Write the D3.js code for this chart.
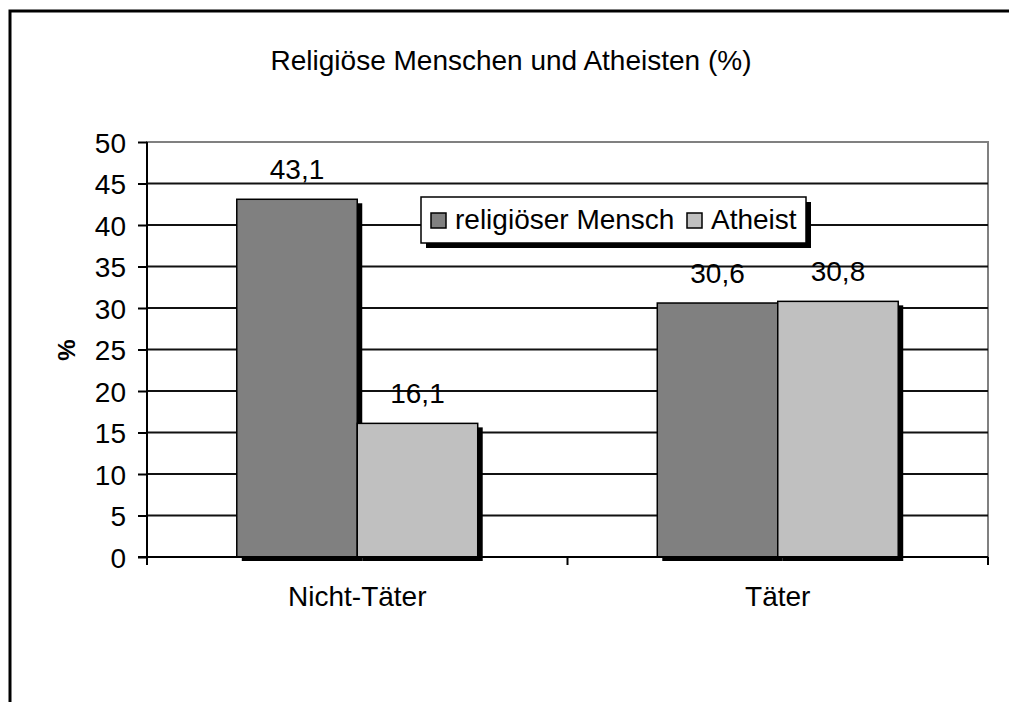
<!DOCTYPE html>
<html>
<head>
<meta charset="utf-8">
<script src="https://cdn.jsdelivr.net/npm/d3@7"></script>
<style>
  html, body { margin: 0; background: #fff; overflow: hidden; }
  svg { display: block; }
  text { font-family: Arial, "Liberation Sans", sans-serif; fill: #000; }
</style>
</head>
<body>
<div id="chart"></div>
<script>
var categories = ["Nicht-Täter", "Täter"];
var seriesNames = ["religiöser Mensch", "Atheist"];
var religious = [43.1, 30.6];
var atheist = [16.1, 30.8];
var yTicks = [0, 5, 10, 15, 20, 25, 30, 35, 40, 45, 50];
var title = "Religiöse Menschen und Atheisten (%)";

var w = 1009;
var h = 702;
var colors = ["#808080", "#c0c0c0"];
var fs = "28px";

var svg = d3.select("#chart")
            .append("svg")
            .attr("width", w)
            .attr("height", h);

// outer frame: only top and left edges are inside the picture
svg.append("path")
   .attr("d", "M10," + h + "V11H" + w)
   .attr("fill", "none")
   .attr("stroke", "#000")
   .attr("stroke-width", 3);

var pLeft = 147, pRight = 988, pTop = 142, pBottom = 557;

var y = d3.scaleLinear().domain([0, 50]).range([pBottom, pTop]);
var x0 = d3.scaleBand().domain(categories).range([pLeft, pRight]);
var inner = 0.573;
var x1 = d3.scaleBand().domain(seriesNames)
           .range([0, x0.bandwidth() * inner]);

// plot area border (gray)
svg.append("rect")
   .attr("x", pLeft).attr("y", pTop)
   .attr("width", pRight - pLeft).attr("height", pBottom - pTop)
   .attr("fill", "none")
   .attr("stroke", "#808080")
   .attr("stroke-width", 2);

// gridlines
svg.selectAll(".grid")
   .data(yTicks.filter(function(d){ return d > 0 && d < 50; }))
   .enter()
   .append("line")
   .attr("x1", pLeft).attr("x2", pRight)
   .attr("y1", function(d){ return y(d); })
   .attr("y2", function(d){ return y(d); })
   .attr("stroke", "#111")
   .attr("stroke-width", 2);

// y axis
var yAxis = d3.axisLeft(y).tickValues(yTicks).tickSize(9).tickPadding(12);
var gy = svg.append("g")
   .attr("transform", "translate(" + pLeft + ",0)")
   .call(yAxis);
gy.select(".domain").remove();
gy.selectAll(".tick line").attr("stroke", "#000").attr("stroke-width", 2);
gy.selectAll(".tick text")
  .style("font-size", fs)
  .attr("dy", "0.36em");

svg.append("line")
   .attr("x1", pLeft).attr("x2", pLeft)
   .attr("y1", pTop).attr("y2", pBottom + 8)
   .attr("stroke", "#000").attr("stroke-width", 2);

// bars
var data = categories.map(function(c, i) {
  return { cat: c, vals: [religious[i], atheist[i]] };
});

var groups = svg.selectAll(".cat")
   .data(data)
   .enter()
   .append("g")
   .attr("transform", function(d) {
     return "translate(" + (x0(d.cat) + x0.bandwidth() * (1 - inner) / 2) + ",0)";
   });

groups.each(function(d) {
  var g = d3.select(this);
  var v = d.vals.map(function(val, j){ return { name: seriesNames[j], val: val, j: j }; });
  v.forEach(function(b) {
    g.append("rect")
     .attr("x", x1(b.name) + 5)
     .attr("y", y(b.val) + 4)
     .attr("width", x1.bandwidth())
     .attr("height", pBottom - y(b.val))
     .attr("fill", "#000");
    g.append("rect")
     .attr("x", x1(b.name))
     .attr("y", y(b.val))
     .attr("width", x1.bandwidth())
     .attr("height", pBottom - y(b.val))
     .attr("fill", colors[b.j])
     .attr("stroke", "#000")
     .attr("stroke-width", 1.5);
  });
  g.selectAll(".lbl")
   .data(v)
   .enter()
   .append("text")
   .attr("x", function(b){ return x1(b.name) + x1.bandwidth() / 2; })
   .attr("y", function(b){ return y(b.val) - 20; })
   .attr("text-anchor", "middle")
   .style("font-size", fs)
   .text(function(b){ return String(b.val).replace(".", ","); });
});

// x axis line
svg.append("line")
   .attr("x1", pLeft - 9).attr("x2", pRight)
   .attr("y1", pBottom).attr("y2", pBottom)
   .attr("stroke", "#000").attr("stroke-width", 2);

var xTicks = [pLeft, (pLeft + pRight) / 2, pRight];
svg.selectAll(".xt")
   .data(xTicks)
   .enter()
   .append("line")
   .attr("x1", function(d){ return d; }).attr("x2", function(d){ return d; })
   .attr("y1", pBottom).attr("y2", pBottom + 8)
   .attr("stroke", "#000").attr("stroke-width", 2);

svg.selectAll(".xl")
   .data(categories)
   .enter()
   .append("text")
   .attr("x", function(d){ return x0(d) + x0.bandwidth() / 2; })
   .attr("y", 606)
   .attr("text-anchor", "middle")
   .style("font-size", fs)
   .text(function(d){ return d; });

// title
svg.append("text")
   .attr("x", 511).attr("y", 70)
   .attr("text-anchor", "middle")
   .style("font-size", fs)
   .text(title);

// y label
svg.append("text")
   .attr("transform", "translate(75,350) rotate(-90)")
   .attr("text-anchor", "middle")
   .style("font-size", "24px")
   .style("font-weight", "bold")
   .text("%");

// legend
var lx = 421, ly = 197, lw = 385, lh = 46;
svg.append("rect")
   .attr("x", lx + 5).attr("y", ly + 5)
   .attr("width", lw).attr("height", lh)
   .attr("fill", "#000");
svg.append("rect")
   .attr("x", lx).attr("y", ly)
   .attr("width", lw).attr("height", lh)
   .attr("fill", "#fff")
   .attr("stroke", "#000")
   .attr("stroke-width", 1.5);

var legX = [431, 687];
var leg = svg.selectAll(".leg")
   .data(seriesNames)
   .enter()
   .append("g")
   .attr("transform", function(d, i){ return "translate(" + legX[i] + "," + (ly + 16) + ")"; });
leg.append("rect")
   .attr("width", 15).attr("height", 15)
   .attr("fill", function(d, i){ return colors[i]; })
   .attr("stroke", "#000")
   .attr("stroke-width", 1.5);
leg.append("text")
   .attr("x", 24).attr("y", 16)
   .style("font-size", fs)
   .text(function(d){ return d; });
</script>
</body>
</html>
